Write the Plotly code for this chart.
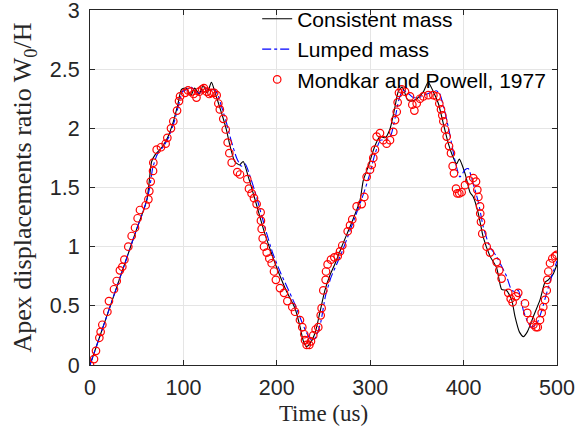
import plotly.graph_objects as go

# Consistent mass (black solid)
cons_t = [0, 10, 20, 30, 40, 50, 57, 61, 63, 66, 70, 77, 83, 89, 94, 98, 103, 108, 112, 117, 121, 125.5, 130, 134, 138, 142, 146, 150, 155, 160, 164, 169.5, 177, 186, 194.5, 203, 210, 219.5, 225, 228.5, 232, 235.5, 241, 246, 251.5, 257, 262, 269.5, 280, 289, 292.6, 298, 305, 310.5, 316, 321, 326.5, 330, 334.4, 340, 343.6, 350, 357, 362, 367.6, 373, 378.3, 383.7, 388, 392.5, 395.4, 401.5, 406.8, 410.4, 415.8, 421, 428.3, 435.4, 440.7, 446, 451.5, 455, 459.7, 464, 468.2, 474.7, 481.8, 487.2, 490.7, 496, 500]
cons_v = [0, 0.23, 0.46, 0.69, 0.92, 1.15, 1.30, 1.40, 1.52, 1.72, 1.78, 1.84, 1.92, 2.05, 2.20, 2.33, 2.34, 2.28, 2.34, 2.29, 2.36, 2.30, 2.39, 2.30, 2.20, 2.10, 1.99, 1.85, 1.72, 1.69, 1.72, 1.59, 1.39, 1.14, 0.94, 0.76, 0.63, 0.48, 0.32, 0.20, 0.155, 0.18, 0.27, 0.44, 0.63, 0.76, 0.85, 1.00, 1.20, 1.39, 1.56, 1.68, 1.85, 1.93, 1.92, 1.99, 2.18, 2.31, 2.35, 2.24, 2.23, 2.25, 2.31, 2.39, 2.31, 2.21, 2.04, 1.87, 1.77, 1.70, 1.74, 1.62, 1.46, 1.42, 1.28, 1.08, 0.92, 0.82, 0.64, 0.63, 0.55, 0.41, 0.28, 0.24, 0.28, 0.41, 0.55, 0.70, 0.72, 0.77, 0.85]

# Lumped mass (blue dash-dot)
lump_t = [0, 10, 20, 30, 40, 50, 57, 61, 64, 67, 72, 78, 84, 90, 95, 99, 104, 108, 113, 118, 123, 128, 133, 137, 141, 146, 151, 157, 162, 166, 172, 178, 186, 195, 204, 211, 219, 226, 232, 236, 239, 242, 247, 252, 258, 264, 270, 280, 288, 293, 299, 305, 311, 317, 322, 327, 331, 335, 340, 346, 352, 358, 364, 370, 374, 378, 382, 386, 391, 396, 401.5, 405, 410, 416, 421, 428, 435, 441, 446, 451.5, 455, 458.6, 464, 469.4, 473, 478.4, 483.6, 489, 494.4, 500]
lump_v = [0, 0.23, 0.46, 0.69, 0.92, 1.15, 1.30, 1.40, 1.50, 1.66, 1.78, 1.84, 1.92, 2.05, 2.20, 2.31, 2.33, 2.35, 2.31, 2.30, 2.34, 2.32, 2.33, 2.28, 2.18, 2.05, 1.90, 1.75, 1.68, 1.70, 1.58, 1.43, 1.20, 0.96, 0.78, 0.66, 0.52, 0.38, 0.27, 0.22, 0.21, 0.24, 0.36, 0.58, 0.74, 0.85, 0.96, 1.17, 1.34, 1.45, 1.60, 1.78, 1.90, 1.90, 1.94, 2.10, 2.25, 2.32, 2.30, 2.26, 2.26, 2.28, 2.30, 2.32, 2.30, 2.20, 2.07, 1.92, 1.72, 1.59, 1.65, 1.66, 1.54, 1.37, 1.17, 1.00, 0.92, 0.83, 0.75, 0.63, 0.62, 0.63, 0.46, 0.35, 0.32, 0.35, 0.46, 0.61, 0.75, 0.88]

# Mondkar and Powell, 1977 (red open circles)
mp_t = [0, 4.3, 6.4, 10, 11.4, 13.2, 18.6, 20.3, 25.7, 28.6, 32, 34.6, 36.8, 41, 44.6, 48.2, 51, 53.5, 59.6, 62.5, 63.5, 65, 67.5, 67.8, 71.4, 76, 81, 82.8, 86.7, 89.2, 93.2, 95.3, 96.4, 101.7, 105, 108, 111, 114, 117, 120, 122, 125, 127.7, 130, 133, 135.6, 137.4, 139, 142.7, 145.3, 147.4, 149.2, 151.7, 157.7, 160.6, 168.4, 170.2, 173, 175.6, 178.4, 182.7, 183, 183.8, 184.9, 186.3, 189.2, 192, 194.5, 197, 199, 203.4, 207.7, 211.3, 216.6, 219.5, 224.8, 227.3, 229.4, 230.2, 232, 234.8, 236.6, 239, 241.6, 244.4, 247, 248, 249.8, 252.3, 252.7, 254.4, 258, 261.6, 265.2, 267.7, 270.1, 275.9, 278.4, 280.8, 285.5, 290.9, 293.7, 296.2, 299.8, 301.6, 303.3, 305.1, 306.9, 310.5, 314, 317.6, 321.2, 324.7, 326.6, 328.4, 329.4, 330.8, 333.7, 337.3, 342.6, 345.1, 347.3, 349.8, 353.3, 356.9, 362.2, 367.6, 371.2, 374, 375.8, 377.2, 378.3, 380.1, 381.9, 384.4, 386.5, 388.3, 389.7, 391.9, 393.3, 395.4, 397.9, 401.5, 406.1, 410.4, 413.3, 414.7, 415.8, 417.6, 417.8, 418.6, 420, 424.7, 428.3, 435.4, 438.2, 440.7, 447.8, 450.4, 452.5, 456, 458.5, 465.7, 468.2, 471.8, 474.7, 477.5, 479.4, 481.8, 483.6, 485.3, 487.2, 489, 489.6, 490.7, 492.5, 495, 497.9, 499.6]
mp_v = [0.00, 0.05, 0.12, 0.23, 0.28, 0.34, 0.45, 0.54, 0.64, 0.71, 0.80, 0.83, 0.89, 1.00, 1.09, 1.16, 1.24, 1.31, 1.35, 1.40, 1.47, 1.55, 1.64, 1.71, 1.82, 1.84, 1.87, 1.92, 2.00, 2.06, 2.15, 2.23, 2.27, 2.30, 2.32, 2.31, 2.29, 2.26, 2.31, 2.33, 2.34, 2.31, 2.29, 2.30, 2.30, 2.28, 2.21, 2.16, 2.08, 1.99, 1.88, 1.79, 1.71, 1.63, 1.61, 1.57, 1.49, 1.45, 1.41, 1.36, 1.29, 1.22, 1.15, 1.07, 1.00, 0.95, 0.90, 0.86, 0.79, 0.72, 0.65, 0.61, 0.54, 0.49, 0.45, 0.38, 0.32, 0.26, 0.21, 0.17, 0.17, 0.20, 0.25, 0.30, 0.32, 0.42, 0.48, 0.63, 0.72, 0.79, 0.85, 0.89, 0.91, 0.92, 0.96, 1.01, 1.13, 1.18, 1.23, 1.34, 1.36, 1.42, 1.59, 1.65, 1.69, 1.75, 1.82, 1.93, 1.96, 1.90, 1.87, 1.90, 1.97, 2.07, 2.14, 2.22, 2.30, 2.33, 2.31, 2.27, 2.20, 2.15, 2.21, 2.25, 2.27, 2.28, 2.28, 2.27, 2.21, 2.16, 2.11, 2.06, 1.99, 1.93, 1.85, 1.79, 1.68, 1.62, 1.49, 1.45, 1.45, 1.46, 1.52, 1.56, 1.58, 1.55, 1.48, 1.42, 1.34, 1.28, 1.21, 1.11, 1.00, 0.95, 0.87, 0.80, 0.73, 0.61, 0.56, 0.53, 0.58, 0.61, 0.52, 0.44, 0.38, 0.34, 0.32, 0.32, 0.38, 0.44, 0.49, 0.55, 0.63, 0.72, 0.79, 0.86, 0.90, 0.92, 0.93]

x_ticks = [0, 100, 200, 300, 400, 500]
y_ticks = [0, 0.5, 1, 1.5, 2, 2.5, 3]
y_tick_text = ["0", "0.5", "1", "1.5", "2", "2.5", "3"]

fig = go.Figure()
fig.add_trace(go.Scatter(x=cons_t, y=cons_v, mode="lines", name="Consistent mass",
                         line=dict(color="black", width=1.1, shape="spline", smoothing=0.6)))
fig.add_trace(go.Scatter(x=lump_t, y=lump_v, mode="lines", name="Lumped mass",
                         line=dict(color="blue", width=1.1, dash="dashdot", shape="spline", smoothing=0.6)))
fig.add_trace(go.Scatter(x=mp_t, y=mp_v, mode="markers", name="Mondkar and Powell, 1977",
                         marker=dict(symbol="circle-open", color="red", size=7.5, line=dict(width=1.2, color="red"))))

sans = "Liberation Sans, Arial, sans-serif"
serif = "Liberation Serif, Times New Roman, serif"

fig.update_layout(
    width=576, height=435,
    margin=dict(l=90, r=19, t=10, b=70, autoexpand=False),
    paper_bgcolor="white", plot_bgcolor="white",
    font=dict(family=sans, size=21, color="#262626"),
    showlegend=True,
    legend=dict(x=0.358, y=1.032, xanchor="left", yanchor="top", bgcolor="rgba(0,0,0,0)",
                borderwidth=0, font=dict(family=sans, size=21, color="black"),
                tracegroupgap=0, itemwidth=30),
)
fig.update_xaxes(range=[0, 500], tickvals=x_ticks, ticktext=[str(v) for v in x_ticks],
                 automargin=False, ticklabeloverflow="allow",
                 showgrid=True, gridcolor="#e5e5e5", gridwidth=1,
                 showline=True, linecolor="#262626", linewidth=1, mirror="ticks",
                 ticks="inside", ticklen=5, tickcolor="#262626", zeroline=False,
                 ticklabelstandoff=3,
                 tickfont=dict(family=sans, size=21.5, color="#262626"),
                 title=dict(text="Time (us)", font=dict(family=serif, size=23, color="#262626"), standoff=6))
fig.update_yaxes(range=[0, 3], tickvals=y_ticks, ticktext=y_tick_text,
                 automargin=False, ticklabeloverflow="allow",
                 showgrid=True, gridcolor="#e5e5e5", gridwidth=1,
                 showline=True, linecolor="#262626", linewidth=1, mirror="ticks",
                 ticks="inside", ticklen=5, tickcolor="#262626", zeroline=False,
                 ticklabelstandoff=5,
                 tickfont=dict(family=sans, size=21.5, color="#262626"),
                 title=dict(text="Apex displacements ratio W<sub>0</sub>/H",
                            font=dict(family=serif, size=26, color="#262626"), standoff=10))

fig.write_html("out.html", config={"displayModeBar": False},
               post_script="document.body.style.margin='0';document.body.style.overflow='hidden';")
